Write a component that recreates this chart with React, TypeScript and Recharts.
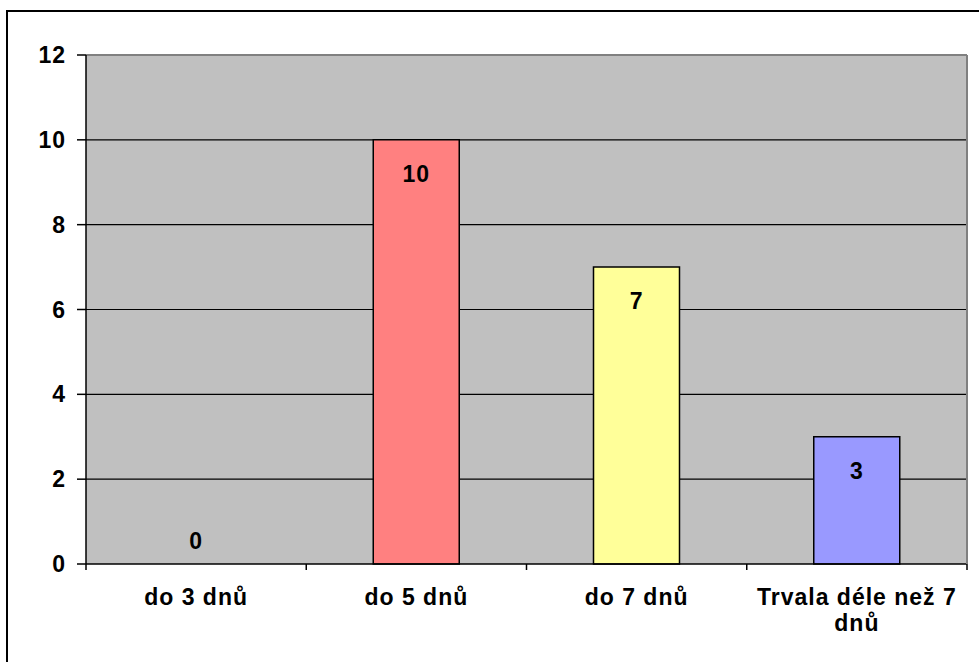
import React from 'react';
import {
  ComposedChart,
  Bar,
  Line,
  Cell,
  XAxis,
  YAxis,
  CartesianGrid,
  LabelList,
  ReferenceLine,
} from 'recharts';

const categories = ['do 3 dnů', 'do 5 dnů', 'do 7 dnů', 'Trvala déle než 7 dnů'];
const categoryLines = [['do 3 dnů'], ['do 5 dnů'], ['do 7 dnů'], ['Trvala déle než 7', 'dnů']];
const counts = [0, 10, 7, 3];
const barColors = ['#C0C0C0', '#FF8080', '#FFFF99', '#9999FF'];
const yTicks = [0, 2, 4, 6, 8, 10, 12];
const gridValues = [2, 4, 6, 8, 10];

const data = categories.map((name, i) => ({ name, value: counts[i] }));

const FONT = 'Arial, "Liberation Sans", sans-serif';
const textStyle = { fontSize: 23, fontWeight: 700, fontFamily: FONT, letterSpacing: 1 };

// category label plus the small tick marks on the band edges
const CategoryTick = (props: any) => {
  const { x, y, index, width, visibleTicksCount } = props;
  const lines = categoryLines[index] || [];
  const half = width / visibleTicksCount / 2;
  const last = index === visibleTicksCount - 1;
  return (
    <g>
      <line x1={x - half} x2={x - half} y1={y} y2={y + 6} stroke="#000" strokeWidth={1.5} />
      {last && <line x1={x + half} x2={x + half} y1={y} y2={y + 6} stroke="#000" strokeWidth={1.5} />}
      <text x={x} y={y + 41} textAnchor="middle" fill="#000" style={textStyle}>
        {lines.map((line, i) => (
          <tspan key={i} x={x} dy={i === 0 ? 0 : 26}>
            {line}
          </tspan>
        ))}
      </text>
    </g>
  );
};

// value labels sit inside the top of each bar, or just above the axis for zero
const ValueLabel = (props: any) => {
  const { x, y, value } = props;
  const cy = value === 0 ? y - 23 : y + 34;
  return (
    <text x={x} y={cy} dy="0.36em" textAnchor="middle" fill="#000" style={textStyle}>
      {value}
    </text>
  );
};

export default function App() {
  return (
    <div style={{ position: 'absolute', left: 0, top: 0, width: 979, height: 662, overflow: 'hidden', background: '#fff' }}>
      <div
        style={{
          position: 'absolute',
          left: 6,
          top: 10,
          width: 1100,
          height: 1100,
          border: '2px solid #000',
        }}
      />
      <div style={{ position: 'absolute', left: 0, top: 0 }}>
        <ComposedChart
          width={979}
          height={662}
          data={data}
          margin={{ top: 55, right: 11, bottom: 0, left: 0 }}
          barSize={86}
        >
          <CartesianGrid
            vertical={false}
            horizontalValues={gridValues}
            stroke="#000"
            strokeWidth={1.2}
            fill="#C0C0C0"
            fillOpacity={1}
          />
          <XAxis
            dataKey="name"
            height={98}
            axisLine={{ stroke: '#000', strokeWidth: 1.5 }}
            tickLine={false}
            tickSize={0}
            tickMargin={0}
            tick={<CategoryTick />}
            interval={0}
          />
          <YAxis
            domain={[0, 12]}
            ticks={yTicks}
            width={86}
            axisLine={{ stroke: '#000', strokeWidth: 1.5 }}
            tickLine={{ stroke: '#000', strokeWidth: 1.5 }}
            tickSize={9}
            tickMargin={11}
            tick={{ fill: '#000', ...textStyle }}
            interval={0}
          />
          <YAxis
            yAxisId="right"
            orientation="right"
            domain={[0, 12]}
            width={1}
            axisLine={{ stroke: '#808080', strokeWidth: 2 }}
            tick={false}
            tickLine={false}
          />
          <ReferenceLine y={12} stroke="#808080" strokeWidth={2} />
          <Bar dataKey="value" stroke="#000" strokeWidth={1.5} isAnimationActive={false}>
            {data.map((d, i) => (
              <Cell key={d.name} fill={barColors[i]} />
            ))}
          </Bar>
          <Line dataKey="value" stroke="none" dot={false} activeDot={false} isAnimationActive={false}>
            <LabelList dataKey="value" content={<ValueLabel />} />
          </Line>
        </ComposedChart>
      </div>
    </div>
  );
}
